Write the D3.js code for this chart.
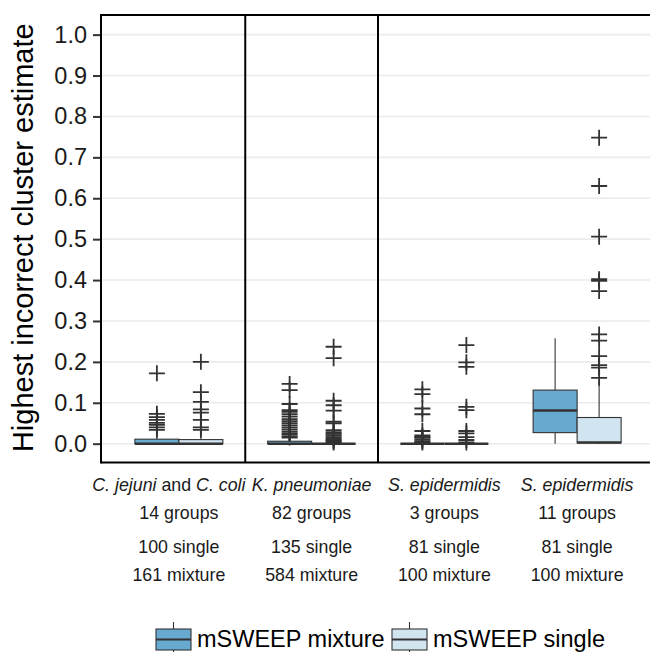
<!DOCTYPE html>
<html>
<head>
<meta charset="utf-8">
<script src="https://cdn.jsdelivr.net/npm/d3@7"></script>
<style>
  body { margin: 0; background: #fff; }
  text { font-family: "Liberation Sans", Arial, Helvetica, sans-serif; }
</style>
</head>
<body>
<div id="chart"></div>
<script>
// Groupes (catégories) et textes sous l'axe
const groups = ["cjej", "kpne", "sepi3", "sepi11"];
const speciesLabels = [
  [["C. jejuni", true], [" and ", false], ["C. coli", true]],
  [["K. pneumoniae", true]],
  [["S. epidermidis", true]],
  [["S. epidermidis", true]]
];
const groupCounts = ["14 groups", "82 groups", "3 groups", "11 groups"];
const singleCounts = ["100 single", "135 single", "81 single", "81 single"];
const mixtureCounts = ["161 mixture", "584 mixture", "100 mixture", "100 mixture"];

const series = ["mSWEEP mixture", "mSWEEP single"];
const colors = ["#67a9cf", "#d1e5f0"];

const yTicks = [0, 0.1, 0.2, 0.3, 0.4, 0.5, 0.6, 0.7, 0.8, 0.9, 1.0];

// [min, q1, mediane, q3, max] par groupe
const mixtureStats = [
  [0, 0, 0, 0.011, 0.025],
  [0, 0, 0, 0.006, 0.012],
  [0, 0, 0, 0, 0],
  [0, 0.027, 0.081, 0.131, 0.258]
];
const singleStats = [
  [0, 0, 0, 0.010, 0.025],
  [0, 0, 0, 0, 0],
  [0, 0, 0, 0, 0],
  [0, 0.002, 0.003, 0.064, 0.155]
];

// Valeurs aberrantes
const mixtureOutliers = [
  [0.172, 0.073, 0.065, 0.058, 0.051, 0.046, 0.040, 0.034],
  [0.146, 0.131, 0.097, 0.082, 0.078, 0.072, 0.066, 0.060, 0.055, 0.050, 0.045, 0.040, 0.035, 0.030, 0.026, 0.022, 0.018, 0.015],
  [0.133, 0.121, 0.086, 0.072, 0.031, 0.020, 0.017, 0.014, 0.010, 0.006, 0.003],
  []
];
const singleOutliers = [
  [0.200, 0.126, 0.102, 0.084, 0.076, 0.058, 0.040, 0.034],
  [0.237, 0.209, 0.105, 0.094, 0.081, 0.054, 0.050, 0.033, 0.028, 0.024, 0.020, 0.016, 0.012, 0.009, 0.006, 0.003],
  [0.241, 0.199, 0.188, 0.090, 0.082, 0.031, 0.025, 0.016, 0.009, 0.003],
  [0.748, 0.630, 0.506, 0.402, 0.398, 0.373, 0.267, 0.252, 0.214, 0.192, 0.186, 0.161]
];

const W = 650, H = 652;
const panel = { left: 101, top: 15, right: 662, bottom: 462.5 };

const svg = d3.select("#chart").append("svg")
  .attr("width", W)
  .attr("height", H);

// Echelles
const x = d3.scaleBand().domain(groups).range([112.5, 643.5]);
const xs = d3.scaleBand().domain(series).range([0, 88]);
const y = d3.scaleLinear().domain([-0.046, 1.048]).range([panel.bottom, panel.top]);

// Grille
svg.append("g")
  .selectAll("line")
  .data(yTicks)
  .enter().append("line")
  .attr("x1", panel.left)
  .attr("x2", panel.right)
  .attr("y1", d => y(d))
  .attr("y2", d => y(d))
  .attr("stroke", "#ebebeb")
  .attr("stroke-width", 1.6);

// Boxplots
const statsBySeries = [mixtureStats, singleStats];
const outBySeries = [mixtureOutliers, singleOutliers];
const boxW = xs.bandwidth();

series.forEach((s, si) => {
  groups.forEach((g, gi) => {
    const [lo, q1, med, q3, hi] = statsBySeries[si][gi];
    const x0 = x(g) + (x.bandwidth() - 88) / 2 + xs(s);
    const cx = x0 + boxW / 2;
    const grp = svg.append("g");

    grp.append("line")
      .attr("x1", cx).attr("x2", cx)
      .attr("y1", y(hi)).attr("y2", y(q3))
      .attr("stroke", "#333").attr("stroke-width", 1.1);
    grp.append("line")
      .attr("x1", cx).attr("x2", cx)
      .attr("y1", y(q1)).attr("y2", y(lo))
      .attr("stroke", "#333").attr("stroke-width", 1.1);

    grp.selectAll("path.out")
      .data(outBySeries[si][gi])
      .enter().append("path")
      .attr("class", "out")
      .attr("transform", d => `translate(${cx},${y(d)})`)
      .attr("d", "M-8,0H8M0,-8V8")
      .attr("stroke", "#333")
      .attr("stroke-width", 1.8)
      .attr("fill", "none");

    grp.append("rect")
      .attr("x", x0)
      .attr("y", y(q3))
      .attr("width", boxW)
      .attr("height", y(q1) - y(q3))
      .attr("fill", colors[si])
      .attr("stroke", "#333")
      .attr("stroke-width", 1.1);

    grp.append("line")
      .attr("x1", x0).attr("x2", x0 + boxW)
      .attr("y1", y(med)).attr("y2", y(med))
      .attr("stroke", "#333").attr("stroke-width", 2.4);
  });
});

// Cadre du panneau et séparateurs
const frame = svg.append("g").attr("stroke", "#000").attr("stroke-width", 2);
frame.append("line").attr("x1", panel.left).attr("x2", panel.right).attr("y1", panel.top).attr("y2", panel.top);
frame.append("line").attr("x1", panel.left).attr("x2", panel.right).attr("y1", panel.bottom).attr("y2", panel.bottom);
frame.append("line").attr("x1", panel.left).attr("x2", panel.left).attr("y1", panel.top - 1).attr("y2", panel.bottom + 1);
[groups[1], groups[2]].forEach(g => {
  frame.append("line")
    .attr("x1", x(g)).attr("x2", x(g))
    .attr("y1", panel.top).attr("y2", panel.bottom);
});

// Axe Y
const yAxis = svg.append("g")
  .attr("transform", `translate(${panel.left - 1},0)`)
  .call(d3.axisLeft(y).tickValues(yTicks).tickFormat(d3.format(".1f")).tickSize(7).tickPadding(6));
yAxis.select(".domain").remove();
yAxis.selectAll(".tick line").attr("stroke", "#333").attr("stroke-width", 2);
yAxis.selectAll(".tick text")
  .attr("fill", "#1a1a1a")
  .style("font-size", "23.5px")
  .style("font-family", "'Liberation Sans', Arial, sans-serif");

svg.append("text")
  .attr("transform", `translate(33,${(panel.top + panel.bottom) / 2 - 1}) rotate(-90)`)
  .attr("text-anchor", "middle")
  .style("font-size", "29px")
  .attr("fill", "#000")
  .text("Highest incorrect cluster estimate");

// Etiquettes de l'axe X
const labelLines = [groupCounts, singleCounts, mixtureCounts];
const lineY = [519.3, 553.3, 580.7];
groups.forEach((g, gi) => {
  const cx = x(g) + x.bandwidth() / 2;
  const t = svg.append("text")
    .attr("x", gi === 0 ? cx - 10 : cx)
    .attr("y", 490.7)
    .attr("text-anchor", "middle")
    .style("font-size", "17.8px")
    .attr("fill", "#1a1a1a");
  speciesLabels[gi].forEach(p => {
    t.append("tspan")
      .style("font-style", p[1] ? "italic" : "normal")
      .attr("xml:space", "preserve")
      .text(p[0]);
  });
  labelLines.forEach((arr, li) => {
    svg.append("text")
      .attr("x", cx)
      .attr("y", lineY[li])
      .attr("text-anchor", "middle")
      .style("font-size", "17.8px")
      .attr("fill", "#1a1a1a")
      .text(arr[gi]);
  });
});

// Légende
const legendX = [156, 392];
series.forEach((s, i) => {
  const lg = svg.append("g").attr("transform", `translate(${legendX[i]},0)`);
  lg.append("line")
    .attr("x1", 17.5).attr("x2", 17.5).attr("y1", 622).attr("y2", 657)
    .attr("stroke", "#333").attr("stroke-width", 1.1);
  lg.append("rect")
    .attr("x", 0).attr("y", 629).attr("width", 35).attr("height", 21)
    .attr("fill", colors[i]).attr("stroke", "#333").attr("stroke-width", 1.1);
  lg.append("line")
    .attr("x1", 0).attr("x2", 35).attr("y1", 639.5).attr("y2", 639.5)
    .attr("stroke", "#333").attr("stroke-width", 2);
  lg.append("text")
    .attr("x", 41)
    .attr("y", 646.7)
    .style("font-size", "23.5px")
    .attr("fill", "#000")
    .text(s);
});
</script>
</body>
</html>
